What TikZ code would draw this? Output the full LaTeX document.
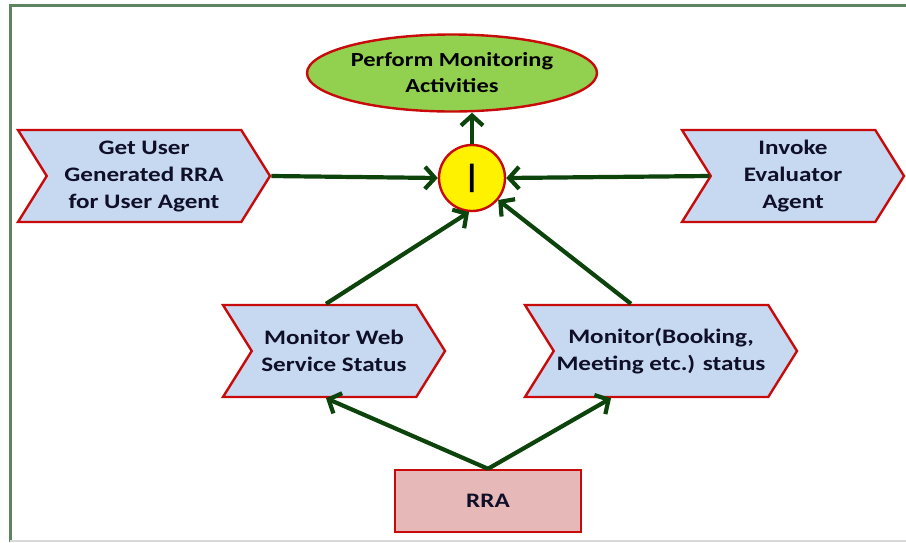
\documentclass[tikz,border=0pt]{standalone}
\usepackage{fontspec}
\setmainfont{Carlito}[FakeStretch=1.22]
\usetikzlibrary{positioning,shapes.geometric,shapes.symbols,arrows.meta}

\definecolor{framegreen}{RGB}{95,130,95}
\definecolor{arrowgreen}{RGB}{12,68,12}
\definecolor{boxred}{RGB}{200,10,10}
\definecolor{chevblue}{RGB}{198,217,240}
\definecolor{ovalgreen}{RGB}{146,208,80}
\definecolor{rrapink}{RGB}{230,184,183}
\definecolor{textnavy}{RGB}{15,15,40}

\tikzset{
  chevron/.style={signal, signal to=east, signal from=west, signal pointer angle=116,
    draw=boxred, fill=chevblue, line width=1.2pt, minimum height=46pt,
    align=center, inner sep=0pt, text=textnavy,
    font=\fontsize{10.3}{13.5}\selectfont\bfseries},
  flow/.style={draw=arrowgreen, line width=2.1pt, -{Straight Barb[length=5pt,width=11pt]}}
}

\begin{document}
\begin{tikzpicture}[x=0.5pt,y=-0.5pt]
\useasboundingbox (0,0) rectangle (906,542);

% frame
\draw[framegreen, line width=1.5pt] (10,542)--(10,5)--(906,5);
\draw[black!15, line width=0.6pt] (10,541)--(906,541);

% states
\node[ellipse, draw=boxred, fill=ovalgreen, line width=1.2pt, minimum width=145pt, minimum height=38.5pt,
  inner sep=0pt, align=center, text=black, font=\fontsize{10}{13}\selectfont\bfseries] (perform) at (452,73) {Perform Monitoring\\Activities};
\node[circle, draw=boxred, fill=yellow, line width=1.2pt, minimum size=33pt, inner sep=0pt,
  font=\fontsize{16}{16}\selectfont\bfseries] (inv) at (472,178) {|};
\node[chevron, minimum width=126pt] (getrra) at (144,176) {Get User\\Generated RRA\\for User Agent};
\node[chevron, minimum width=111pt] (invoke) at (793,176) {Invoke\\Evaluator\\Agent};
\node[chevron, minimum width=111pt] (webst) at (334,351) {Monitor Web\\Service Status};
\node[chevron, minimum width=136pt] (booking) at (661,351) {Monitor(Booking,\\Meeting etc.) status};
\node[draw=boxred, fill=rrapink, line width=1.2pt, minimum width=93pt, minimum height=31pt,
  text=textnavy, font=\fontsize{10.3}{12}\selectfont\bfseries] (rra) at (488,501) {RRA};

% links
\draw[flow] (getrra.east)--(inv.west);
\draw[flow] (invoke.west)--(inv.east);
\draw[flow] (inv.north)--(inv.north |- perform.south);
\draw[flow] ([xshift=-4pt]webst.north)--(inv.-95);
\draw[flow] ([xshift=-15pt]booking.north)--(inv.-40);
\draw[flow] (rra.north)--([xshift=-4pt]webst.south);
\draw[flow] (rra.north)--([xshift=-25pt]booking.south);
\end{tikzpicture}
\end{document}
